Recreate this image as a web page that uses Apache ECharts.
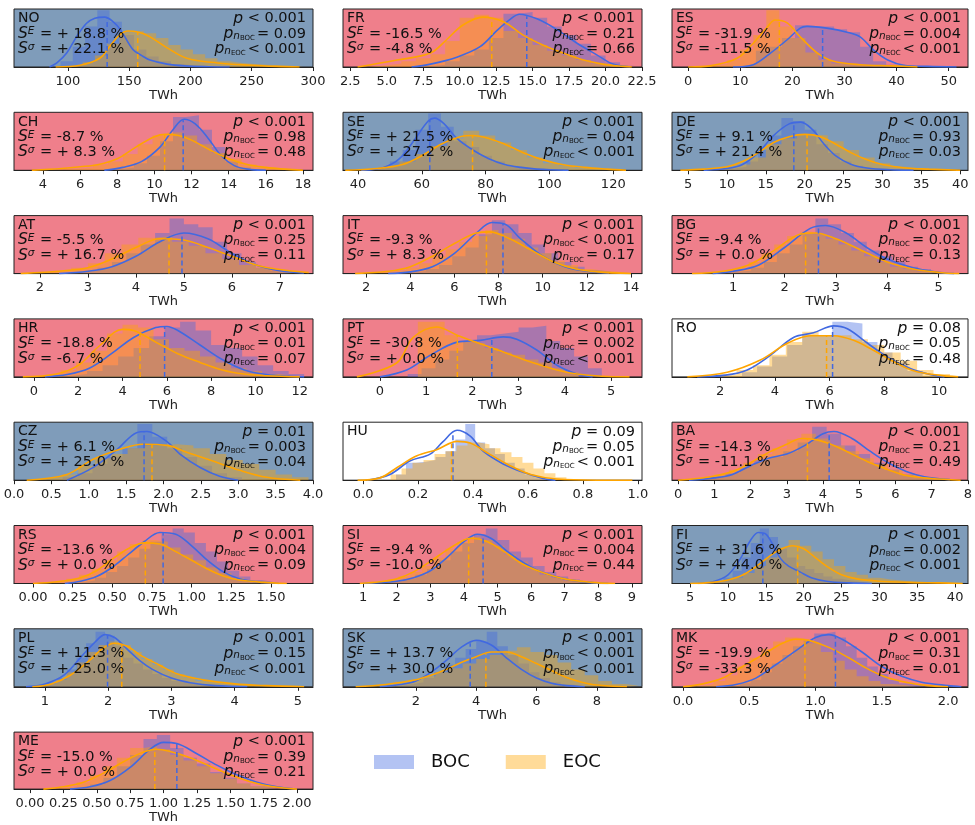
<!DOCTYPE html>
<html><head><meta charset="utf-8">
<script src="https://cdn.jsdelivr.net/npm/echarts@6/dist/echarts.min.js"></script>
<style>html,body{margin:0;padding:0;background:#fff}#c{width:975px;height:825px}</style>
</head><body><div id="c"></div><script>
// ---------------- DATA ----------------
const countries = ['NO','FR','ES','CH','SE','DE','AT','IT','BG','HR','PT','RO','CZ','HU','BA','RS','SI','FI','PL','SK','MK','ME'];
const trend = ['inc','dec','dec','dec','inc','inc','dec','dec','dec','dec','dec','ns','inc','ns','dec','dec','dec','inc','inc','inc','dec','dec'];
// stats: S^E, S^sigma, p, p_nBOC, p_nEOC
const stat_SE = ['+ 18.8 %','-16.5 %','-31.9 %','-8.7 %','+ 21.5 %','+ 9.1 %','-5.5 %','-9.3 %','-9.4 %','-18.8 %','-30.8 %','','+ 6.1 %','','-14.3 %','-13.6 %','-9.4 %','+ 31.6 %','+ 11.3 %','+ 13.7 %','-19.9 %','-15.0 %'];
const stat_Ss = ['+ 22.1 %','-4.8 %','-11.5 %','+ 8.3 %','+ 27.2 %','+ 21.4 %','+ 16.7 %','+ 8.3 %','+ 0.0 %','-6.7 %','+ 0.0 %','','+ 25.0 %','','-11.1 %','+ 0.0 %','-10.0 %','+ 44.0 %','+ 25.0 %','+ 30.0 %','-33.3 %','+ 0.0 %'];
const stat_p = ['< 0.001','< 0.001','< 0.001','< 0.001','< 0.001','< 0.001','< 0.001','< 0.001','< 0.001','< 0.001','< 0.001','= 0.08','= 0.01','= 0.09','< 0.001','< 0.001','< 0.001','< 0.001','< 0.001','< 0.001','< 0.001','< 0.001'];
const stat_pB = ['= 0.09','= 0.21','= 0.004','= 0.98','= 0.04','= 0.93','= 0.25','< 0.001','= 0.02','= 0.01','= 0.002','= 0.05','= 0.003','= 0.05','= 0.21','= 0.004','= 0.004','= 0.002','= 0.15','< 0.001','= 0.31','= 0.39'];
const stat_pE = ['< 0.001','= 0.66','< 0.001','= 0.48','< 0.001','= 0.03','= 0.11','= 0.17','= 0.13','= 0.07','< 0.001','= 0.48','= 0.04','< 0.001','= 0.49','= 0.09','= 0.44','< 0.001','< 0.001','< 0.001','= 0.01','= 0.21'];

// NO
const NO_ticks = ['100','150','200','250','300'];
const NO_range = [56, 300];
const NO_bocBin = [84, 10];
const NO_bocH = [0.02,0.1,0.35,0.7,0.98,0.78,0.55,0.3,0.18,0.1,0.05,0.02,0.01,0.01,0.005];
const NO_eocBin = [92, 10];
const NO_eocH = [0.01,0.03,0.08,0.2,0.4,0.6,0.62,0.58,0.5,0.38,0.3,0.22,0.15,0.1,0.07,0.05,0.04,0.03,0.02,0.01];
const NO_bocKde = [[85,0],[91,0.07],[99,0.24],[107,0.52],[115,0.75],[122,0.84],[130,0.86],[137,0.78],[143,0.64],[153,0.3],[160,0.2],[167,0.12],[181,0.05],[195,0.02],[215,0.005],[232,0]];
const NO_eocKde = [[90,0],[110,0.03],[126,0.15],[134,0.35],[142,0.55],[149,0.62],[158,0.6],[167,0.52],[181,0.33],[197,0.15],[222,0.07],[249,0.03],[270,0.01],[289,0]];
const NO_means = [132, 157];
// FR
const FR_ticks = ['2.5','5.0','7.5','10.0','12.5','15.0','17.5','20.0','22.5'];
const FR_range = [2.0, 22.5];
const FR_bocBin = [7, 1];
const FR_bocH = [0.01,0.04,0.1,0.2,0.3,0.5,0.92,0.95,0.85,0.7,0.55,0.4,0.2,0.08,0.02];
const FR_eocBin = [3, 1];
const FR_eocH = [0.01,0.03,0.06,0.1,0.15,0.22,0.45,0.85,0.9,0.85,0.62,0.5,0.38,0.28,0.2,0.12,0.06,0.03,0.01];
const FR_bocKde = [[6.7,0],[8.0,0.05],[9.8,0.17],[11.4,0.35],[12.6,0.64],[13.5,0.83],[14.1,0.91],[15.3,0.83],[16.7,0.64],[18.05,0.41],[19.4,0.21],[20.5,0.05],[21.7,0]];
const FR_eocKde = [[3.0,0],[5.7,0.12],[8.0,0.24],[9.1,0.47],[10.2,0.72],[11.6,0.86],[13.0,0.78],[14.35,0.55],[15.7,0.38],[17.1,0.24],[18.5,0.12],[19.8,0.05],[21.2,0.01],[21.8,0]];
const FR_means = [14.6, 12.2];
// ES
const ES_ticks = ['0','10','20','30','40','50'];
const ES_range = [-3.1, 53.7];
const ES_bocBin = [8, 2.5];
const ES_bocH = [0.02,0.05,0.28,0.35,0.5,0.72,0.7,0.7,0.65,0.6,0.35,0.1,0.04,0.02,0.01,0.01,0.01];
const ES_eocBin = [0, 2.5];
const ES_eocH = [0.01,0.02,0.05,0.12,0.3,0.55,0.98,0.7,0.5,0.25,0.12,0.06,0.04,0.03,0.02,0.02,0.01];
const ES_bocKde = [[8.6,0],[12.5,0.04],[15.8,0.24],[19,0.47],[21.5,0.67],[22.8,0.7],[26.6,0.67],[30.5,0.6],[33,0.52],[35.6,0.29],[38.3,0.12],[41.4,0.03],[45.9,0.01],[51.5,0]];
const ES_eocKde = [[0,0],[4.2,0.02],[9.4,0.15],[12.5,0.41],[15.2,0.69],[16.7,0.81],[19,0.76],[21.5,0.52],[24.8,0.24],[27.9,0.1],[33,0.04],[39.4,0.02],[44,0]];
const ES_means = [25.8, 17.5];
// CH
const CH_ticks = ['4','6','8','10','12','14','16','18'];
const CH_range = [2.44, 18.54];
const CH_bocBin = [7.5, 0.7];
const CH_bocH = [0.02,0.05,0.12,0.25,0.5,0.92,0.95,0.7,0.4,0.15,0.05,0.01];
const CH_eocBin = [3.5, 0.8];
const CH_eocH = [0.01,0.02,0.03,0.05,0.1,0.15,0.28,0.45,0.6,0.65,0.6,0.45,0.3,0.2,0.1,0.05,0.03,0.01];
const CH_bocKde = [[7.3,0],[8.3,0.05],[9.3,0.15],[10.3,0.4],[11.0,0.7],[11.6,0.88],[12.2,0.8],[12.9,0.55],[13.6,0.25],[14.3,0.08],[15,0.02],[16,0]];
const CH_eocKde = [[3.4,0],[5,0.03],[6,0.06],[7,0.1],[8,0.2],[9,0.4],[10,0.58],[10.6,0.62],[11.3,0.6],[12,0.52],[13,0.35],[14,0.2],[15,0.1],[16,0.05],[17,0.02],[18,0]];
const CH_means = [11.55, 10.55];
// SE
const SE_ticks = ['40','60','80','100','120'];
const SE_range = [35.3, 129];
const SE_bocBin = [42, 4];
const SE_bocH = [0.02,0.05,0.15,0.35,0.7,0.98,0.75,0.5,0.4,0.25,0.15,0.08,0.05,0.02,0.01];
const SE_eocBin = [38, 5];
const SE_eocH = [0.02,0.04,0.08,0.15,0.28,0.42,0.55,0.68,0.6,0.48,0.35,0.22,0.12,0.08,0.04,0.02,0.01];
const SE_bocKde = [[41,0],[48,0.05],[53,0.2],[58,0.55],[62,0.85],[64,0.9],[67,0.8],[71,0.55],[76,0.35],[81,0.2],[86,0.1],[91,0.05],[96,0.02],[106,0]];
const SE_eocKde = [[36,0],[46,0.03],[54,0.1],[60,0.25],[66,0.45],[72,0.58],[76,0.6],[81,0.55],[86,0.45],[92,0.3],[98,0.18],[104,0.1],[111,0.05],[118,0.02],[124,0]];
const SE_means = [62.5, 75.9];
// DE
const DE_ticks = ['5','10','15','20','25','30','35','40'];
const DE_range = [2.93, 41];
const DE_bocBin = [8, 1.5];
const DE_bocH = [0.01,0.03,0.06,0.15,0.35,0.6,0.9,0.85,0.7,0.45,0.3,0.15,0.08,0.04,0.02,0.01];
const DE_eocBin = [5, 2];
const DE_eocH = [0.01,0.03,0.05,0.1,0.22,0.45,0.55,0.62,0.6,0.5,0.35,0.22,0.12,0.06,0.03,0.02,0.01];
const DE_bocKde = [[7,0],[10,0.03],[12,0.1],[14,0.3],[16,0.6],[18,0.8],[19.5,0.83],[21,0.7],[22.5,0.45],[24,0.25],[26,0.1],[28,0.04],[31,0.01],[34,0]];
const DE_eocKde = [[4,0],[7,0.02],[10,0.06],[12,0.15],[14,0.3],[16,0.48],[18,0.58],[20,0.62],[22,0.58],[24,0.45],[26,0.3],[28,0.18],[30,0.1],[33,0.04],[36,0.02],[40,0]];
const DE_means = [18.6, 20.3];
// AT
const AT_ticks = ['2','3','4','5','6','7'];
const AT_range = [1.46, 7.69];
const AT_bocBin = [2.6, 0.3];
const AT_bocH = [0.02,0.05,0.1,0.2,0.35,0.5,0.7,0.95,0.85,0.8,0.55,0.35,0.2,0.1,0.05,0.02];
const AT_eocBin = [1.6, 0.35];
const AT_eocH = [0.01,0.03,0.06,0.1,0.18,0.35,0.5,0.62,0.65,0.55,0.48,0.35,0.25,0.15,0.1,0.05,0.02];
const AT_bocKde = [[2.4,0],[3,0.04],[3.5,0.12],[4,0.3],[4.5,0.55],[5,0.7],[5.5,0.6],[6,0.35],[6.5,0.15],[7,0.05],[7.5,0.01]];
const AT_eocKde = [[1.6,0],[2.5,0.05],[3,0.1],[3.5,0.25],[4,0.45],[4.5,0.6],[5,0.58],[5.5,0.45],[6,0.3],[6.5,0.15],[7,0.07],[7.6,0.02]];
const AT_means = [4.96, 4.69];
// IT
const IT_ticks = ['2','4','6','8','10','12','14'];
const IT_range = [0.95, 14.5];
const IT_bocBin = [3.5, 0.6];
const IT_bocH = [0.02,0.04,0.08,0.15,0.3,0.45,0.68,0.92,0.85,0.7,0.5,0.35,0.2,0.12,0.06,0.03];
const IT_eocBin = [2, 0.6];
const IT_eocH = [0.01,0.03,0.06,0.1,0.18,0.3,0.42,0.55,0.65,0.75,0.7,0.6,0.45,0.35,0.22,0.15,0.08,0.05,0.03,0.01];
const IT_bocKde = [[3,0],[4,0.03],[5,0.12],[6,0.35],[7,0.7],[7.7,0.88],[8.3,0.85],[9,0.6],[10,0.3],[11,0.12],[12,0.04],[13,0.01]];
const IT_eocKde = [[1.5,0],[3,0.04],[4,0.12],[5,0.3],[6,0.52],[7,0.7],[7.6,0.72],[8.5,0.6],[9.5,0.4],[10.5,0.2],[11.5,0.08],[12.5,0.03],[14,0]];
const IT_means = [8.2, 7.45];
// BG
const BG_ticks = ['1','2','3','4','5'];
const BG_range = [-0.19, 5.57];
const BG_bocBin = [0.6, 0.25];
const BG_bocH = [0.01,0.03,0.05,0.1,0.2,0.35,0.5,0.7,0.95,0.85,0.7,0.55,0.4,0.3,0.2,0.12,0.08,0.03];
const BG_eocBin = [0.3, 0.25];
const BG_eocH = [0.01,0.03,0.06,0.1,0.2,0.35,0.5,0.65,0.72,0.68,0.6,0.5,0.4,0.3,0.2,0.12,0.08,0.04,0.02,0.01];
const BG_bocKde = [[0.6,0],[1,0.04],[1.5,0.15],[2,0.45],[2.5,0.78],[2.8,0.83],[3.2,0.7],[3.6,0.45],[4,0.25],[4.5,0.1],[5,0.02],[5.3,0]];
const BG_eocKde = [[0.2,0],[0.8,0.04],[1.3,0.15],[1.8,0.4],[2.3,0.68],[2.6,0.7],[3,0.6],[3.5,0.4],[4,0.2],[4.5,0.08],[5,0.02],[5.4,0]];
const BG_means = [2.66, 2.41];
// HR
const HR_ticks = ['0','2','4','6','8','10','12'];
const HR_range = [-0.9, 12.6];
const HR_bocBin = [1, 0.7];
const HR_bocH = [0.02,0.05,0.1,0.2,0.35,0.5,0.7,0.85,0.95,0.8,0.55,0.5,0.35,0.2,0.1,0.05];
const HR_eocBin = [-0.2, 0.7];
const HR_eocH = [0.02,0.05,0.12,0.25,0.45,0.75,0.9,0.85,0.65,0.5,0.45,0.35,0.25,0.15,0.1,0.05,0.02];
const HR_bocKde = [[0.5,0],[1.5,0.04],[2.5,0.15],[3.5,0.4],[4.5,0.68],[5.5,0.85],[6,0.87],[6.5,0.8],[7.5,0.55],[8.5,0.3],[9.5,0.12],[10.5,0.04],[11.5,0.01],[12.2,0]];
const HR_eocKde = [[-0.5,0],[1,0.05],[2,0.2],[3,0.55],[4,0.82],[4.5,0.8],[5.5,0.6],[6.5,0.4],[7.5,0.25],[8.5,0.12],[9.5,0.05],[10.5,0.02],[12,0]];
const HR_means = [5.9, 4.79];
// PT
const PT_ticks = ['0','1','2','3','4','5'];
const PT_range = [-0.8, 5.67];
const PT_bocBin = [0.6, 0.3];
const PT_bocH = [0.05,0.15,0.3,0.45,0.6,0.72,0.75,0.78,0.85,0.88,0.62,0.5,0.35,0.15];
const PT_eocBin = [0.82, 0.29];
const PT_eocH = [0.95,0.95,0.72,0.6,0.58,0.5,0.42,0.38,0.3,0.25,0.15,0.08];
const PT_bocKde = [[0,0],[0.58,0.12],[1.08,0.37],[1.67,0.6],[2.17,0.63],[2.67,0.69],[2.96,0.65],[3.4,0.46],[3.83,0.2],[4.26,0.05],[4.6,0]];
const PT_eocKde = [[-0.5,0],[0.36,0.24],[0.72,0.68],[1.23,0.86],[1.67,0.72],[2.17,0.57],[2.67,0.43],[3.25,0.26],[3.83,0.12],[4.26,0.05],[4.8,0.01],[5.4,0]];
const PT_means = [2.42, 1.675];
// RO
const RO_ticks = ['2','4','6','8','10'];
const RO_range = [0.24, 11.06];
const RO_bocBin = [2.8, 0.55];
const RO_bocH = [0.08,0.18,0.35,0.55,0.72,0.72,0.95,0.92,0.6,0.42,0.25,0.1];
const RO_eocBin = [2.0, 0.6];
const RO_eocH = [0.04,0.12,0.2,0.38,0.6,0.78,0.72,0.72,0.65,0.55,0.42,0.28,0.12,0.05];
const RO_bocKde = [[1.16,0],[2.2,0.03],[2.99,0.12],[3.83,0.37],[4.68,0.68],[5.41,0.76],[6.15,0.88],[6.65,0.83],[7.39,0.58],[8.12,0.34],[8.97,0.14],[9.6,0.05],[10.2,0]];
const RO_eocKde = [[0.8,0],[2.26,0.08],[3.47,0.29],[4.46,0.58],[5.3,0.71],[6.15,0.71],[6.88,0.63],[7.6,0.46],[8.36,0.26],[9.1,0.1],[9.97,0.03],[10.7,0]];
const RO_means = [6.11, 5.89];
// CZ
const CZ_ticks = ['0.0','0.5','1.0','1.5','2.0','2.5','3.0','3.5','4.0'];
const CZ_range = [0, 4];
const CZ_bocBin = [0.65, 0.2];
const CZ_bocH = [0.05,0.12,0.28,0.4,0.55,0.97,0.75,0.55,0.4,0.25,0.12,0.05];
const CZ_eocBin = [0.2, 0.22];
const CZ_eocH = [0.02,0.05,0.1,0.25,0.38,0.45,0.55,0.6,0.62,0.6,0.55,0.45,0.35,0.28,0.18,0.1,0.05];
const CZ_bocKde = [[0.71,0],[1.06,0.22],[1.38,0.53],[1.64,0.82],[1.78,0.84],[2.05,0.66],[2.22,0.45],[2.49,0.22],[2.75,0.07],[3.0,0]];
const CZ_eocKde = [[0.17,0],[0.71,0.1],[1.06,0.36],[1.46,0.55],[1.72,0.62],[2.05,0.6],[2.31,0.48],[2.66,0.33],[3.02,0.17],[3.38,0.05],[3.83,0]];
const CZ_means = [1.74, 1.846];
// HU
const HU_ticks = ['0.0','0.2','0.4','0.6','0.8','1.0'];
const HU_range = [-0.073, 1.015];
const HU_bocBin = [0.12, 0.036];
const HU_bocH = [0.1,0.3,0.32,0.35,0.4,0.5,0.7,0.97,0.65,0.55,0.45,0.3,0.2,0.1,0.05];
const HU_eocBin = [0.1, 0.04];
const HU_eocH = [0.1,0.2,0.3,0.35,0.45,0.5,0.6,0.65,0.62,0.55,0.48,0.4,0.3,0.2,0.12,0.05];
const HU_bocKde = [[0.014,0],[0.098,0.1],[0.17,0.33],[0.244,0.45],[0.29,0.66],[0.342,0.86],[0.39,0.76],[0.437,0.5],[0.51,0.28],[0.58,0.14],[0.655,0.03],[0.7,0]];
const HU_eocKde = [[-0.02,0],[0.062,0.04],[0.124,0.22],[0.196,0.42],[0.27,0.53],[0.342,0.67],[0.39,0.64],[0.46,0.45],[0.535,0.25],[0.61,0.1],[0.705,0.02],[0.85,0],[0.98,0]];
const HU_means = [0.327, 0.322];
// BA
const BA_ticks = ['0','1','2','3','4','5','6','7','8'];
const BA_range = [-0.17, 8];
const BA_bocBin = [0.5, 0.4];
const BA_bocH = [0.02,0.06,0.12,0.25,0.35,0.4,0.5,0.65,0.92,0.8,0.6,0.45,0.3,0.18,0.1,0.05,0.02];
const BA_eocBin = [0.2, 0.4];
const BA_eocH = [0.02,0.05,0.1,0.18,0.3,0.45,0.55,0.7,0.8,0.72,0.6,0.5,0.38,0.28,0.18,0.1,0.05,0.02];
const BA_bocKde = [[0.3,0],[1,0.04],[1.5,0.1],[2,0.25],[2.5,0.38],[3,0.45],[3.5,0.6],[4,0.8],[4.3,0.84],[4.8,0.72],[5.3,0.5],[5.8,0.3],[6.3,0.15],[6.8,0.06],[7.5,0.01]];
const BA_eocKde = [[0,0],[0.8,0.05],[1.5,0.15],[2,0.3],[2.5,0.48],[3,0.62],[3.4,0.72],[3.8,0.7],[4.3,0.6],[4.8,0.45],[5.3,0.3],[5.8,0.18],[6.3,0.08],[7,0.03],[7.8,0]];
const BA_means = [4.17, 3.57];
// RS
const RS_ticks = ['0.00','0.25','0.50','0.75','1.00','1.25','1.50'];
const RS_range = [-0.12, 1.765];
const RS_bocBin = [0.25, 0.07];
const RS_bocH = [0.02,0.05,0.1,0.2,0.3,0.45,0.6,0.72,0.85,0.95,0.88,0.7,0.55,0.38,0.22,0.12,0.06,0.03];
const RS_eocBin = [0.05, 0.08];
const RS_eocH = [0.02,0.04,0.08,0.15,0.25,0.4,0.55,0.68,0.75,0.72,0.62,0.5,0.4,0.28,0.18,0.1,0.05,0.02];
const RS_bocKde = [[0.2,0],[0.3,0.04],[0.4,0.12],[0.5,0.28],[0.6,0.5],[0.7,0.72],[0.8,0.88],[0.9,0.85],[1.0,0.65],[1.1,0.4],[1.2,0.2],[1.3,0.08],[1.4,0.03],[1.55,0]];
const RS_eocKde = [[0,0],[0.15,0.03],[0.3,0.1],[0.4,0.22],[0.5,0.42],[0.6,0.6],[0.7,0.7],[0.8,0.68],[0.9,0.55],[1.0,0.4],[1.1,0.25],[1.2,0.13],[1.3,0.06],[1.45,0.02],[1.6,0]];
const RS_means = [0.82, 0.708];
// SI
const SI_ticks = ['1','2','3','4','5','6','7','8','9'];
const SI_range = [0.4, 9.3];
const SI_bocBin = [1.5, 0.35];
const SI_bocH = [0.02,0.04,0.08,0.15,0.25,0.4,0.55,0.7,0.85,0.95,0.75,0.55,0.45,0.3,0.2,0.12,0.07,0.03,0.01];
const SI_eocBin = [1.0, 0.35];
const SI_eocH = [0.01,0.03,0.06,0.12,0.2,0.3,0.45,0.6,0.72,0.8,0.75,0.65,0.5,0.38,0.25,0.15,0.1,0.05,0.03,0.01];
const SI_bocKde = [[1,0],[2,0.04],[2.5,0.1],[3,0.22],[3.5,0.45],[4,0.72],[4.4,0.85],[4.8,0.78],[5.3,0.55],[5.8,0.35],[6.3,0.2],[7,0.08],[7.7,0.02],[8.3,0]];
const SI_eocKde = [[0.9,0],[1.5,0.03],[2,0.08],[2.5,0.2],[3,0.38],[3.5,0.58],[4,0.75],[4.2,0.78],[4.7,0.72],[5.2,0.55],[5.7,0.35],[6.3,0.2],[7,0.08],[7.8,0.02],[8.5,0]];
const SI_means = [4.57, 4.14];
// FI
const FI_ticks = ['5','10','15','20','25','30','35','40'];
const FI_range = [2.6, 41.7];
const FI_bocBin = [7, 1.2];
const FI_bocH = [0.02,0.05,0.1,0.22,0.45,0.7,0.95,0.8,0.6,0.45,0.3,0.25,0.18,0.12,0.08,0.05,0.03,0.02];
const FI_eocBin = [6, 1.5];
const FI_eocH = [0.02,0.04,0.06,0.1,0.18,0.3,0.45,0.62,0.75,0.65,0.55,0.42,0.3,0.2,0.15,0.1,0.07,0.05,0.03,0.02,0.02,0.01,0.01];
const FI_bocKde = [[6,0],[8,0.03],[10,0.15],[11.5,0.4],[13,0.75],[14,0.88],[15,0.85],[16,0.65],[17,0.42],[18,0.3],[19.5,0.2],[21,0.1],[23,0.04],[26,0.01],[29,0]];
const FI_eocKde = [[5,0],[8,0.02],[10,0.06],[12,0.15],[14,0.32],[16,0.52],[17.5,0.62],[18.5,0.65],[20,0.6],[21.5,0.45],[23,0.3],[25,0.15],[27,0.08],[30,0.04],[34,0.02],[38,0.01],[41,0]];
const FI_means = [14.6, 19.2];
// PL
const PL_ticks = ['1','2','3','4','5'];
const PL_range = [0.51, 5.24];
const PL_bocBin = [0.9, 0.15];
const PL_bocH = [0.03,0.08,0.15,0.3,0.5,0.75,0.95,0.88,0.7,0.5,0.4,0.3,0.22,0.15,0.1,0.07,0.04,0.03,0.02];
const PL_eocBin = [1.0, 0.17];
const PL_eocH = [0.05,0.12,0.25,0.42,0.6,0.72,0.78,0.72,0.6,0.48,0.38,0.3,0.22,0.15,0.1,0.07,0.05,0.04,0.03,0.02,0.02,0.01,0.01,0.01];
const PL_bocKde = [[0.7,0],[1.0,0.05],[1.3,0.2],[1.6,0.55],[1.8,0.78],[1.95,0.9],[2.1,0.85],[2.3,0.65],[2.5,0.45],[2.7,0.3],[3,0.15],[3.3,0.07],[3.7,0.02],[4.2,0]];
const PL_eocKde = [[0.8,0],[1.1,0.05],[1.4,0.2],[1.7,0.45],[1.9,0.65],[2.1,0.75],[2.3,0.7],[2.5,0.55],[2.8,0.38],[3.1,0.22],[3.5,0.12],[4,0.05],[4.5,0.02],[5.1,0]];
const PL_means = [1.99, 2.215];
// SK
const SK_ticks = ['2','4','6','8'];
const SK_range = [-0.42, 9.5];
const SK_bocBin = [1.2, 0.35];
const SK_bocH = [0.02,0.05,0.08,0.15,0.25,0.38,0.5,0.65,0.78,0.95,0.7,0.55,0.4,0.25,0.15,0.08,0.04,0.02];
const SK_eocBin = [0.4, 0.45];
const SK_eocH = [0.02,0.04,0.08,0.12,0.18,0.25,0.32,0.4,0.48,0.55,0.62,0.68,0.6,0.55,0.42,0.3,0.2,0.1,0.05,0.02];
const SK_bocKde = [[0.8,0],[1.5,0.04],[2,0.1],[2.5,0.25],[3,0.45],[3.5,0.68],[4,0.8],[4.5,0.72],[5,0.5],[5.5,0.3],[6,0.15],[6.5,0.06],[7,0.02],[7.6,0]];
const SK_eocKde = [[0,0],[1,0.04],[2,0.12],[2.5,0.2],[3,0.3],[3.5,0.42],[4,0.52],[4.5,0.6],[5,0.6],[5.5,0.52],[6,0.4],[6.5,0.28],[7,0.16],[7.5,0.08],[8,0.03],[9,0]];
const SK_means = [3.8, 4.32];
// MK
const MK_ticks = ['0.0','0.5','1.0','1.5','2.0'];
const MK_range = [-0.083, 2.15];
const MK_bocBin = [0.35, 0.08];
const MK_bocH = [0.02,0.06,0.12,0.25,0.4,0.55,0.7,0.8,0.92,0.95,0.85,0.7,0.5,0.35,0.22,0.12,0.06,0.03,0.01];
const MK_eocBin = [0.05, 0.09];
const MK_eocH = [0.02,0.05,0.1,0.2,0.35,0.5,0.65,0.78,0.85,0.82,0.75,0.6,0.45,0.3,0.18,0.1,0.05,0.03,0.01];
const MK_bocKde = [[0.25,0],[0.4,0.04],[0.55,0.15],[0.7,0.38],[0.85,0.62],[1.0,0.85],[1.1,0.9],[1.2,0.82],[1.35,0.6],[1.5,0.35],[1.65,0.18],[1.8,0.08],[2.0,0.02],[2.1,0]];
const MK_eocKde = [[0,0],[0.15,0.05],[0.3,0.15],[0.45,0.35],[0.6,0.55],[0.75,0.75],[0.85,0.82],[0.95,0.8],[1.1,0.68],[1.25,0.5],[1.4,0.3],[1.55,0.15],[1.7,0.07],[1.85,0.02],[2.0,0]];
const MK_means = [1.15, 0.92];
// ME
const ME_ticks = ['0.00','0.25','0.50','0.75','1.00','1.25','1.50','1.75','2.00'];
const ME_range = [-0.12, 2.12];
const ME_bocBin = [0.35, 0.1];
const ME_bocH = [0.03,0.08,0.2,0.4,0.6,0.88,0.95,0.72,0.55,0.45,0.3,0.2,0.1,0.05,0.02];
const ME_eocBin = [0.15, 0.1];
const ME_eocH = [0.02,0.05,0.12,0.25,0.4,0.55,0.72,0.75,0.7,0.6,0.5,0.4,0.28,0.18,0.1,0.05,0.02];
const ME_bocKde = [[0.3,0],[0.45,0.04],[0.6,0.15],[0.75,0.38],[0.9,0.7],[1.0,0.82],[1.1,0.8],[1.25,0.62],[1.4,0.42],[1.55,0.25],[1.7,0.12],[1.85,0.04],[2.0,0]];
const ME_eocKde = [[0.1,0],[0.25,0.04],[0.4,0.12],[0.55,0.28],[0.7,0.48],[0.85,0.65],[0.95,0.7],[1.05,0.66],[1.2,0.55],[1.35,0.4],[1.5,0.25],[1.65,0.13],[1.8,0.05],[2.0,0]];
const ME_means = [1.10, 0.935];

const legendNames = ['BOC', 'EOC'];

// --------------- BUILD ----------------
const panelData = {
  NO:[NO_ticks,NO_range,NO_bocBin,NO_bocH,NO_eocBin,NO_eocH,NO_bocKde,NO_eocKde,NO_means],
  FR:[FR_ticks,FR_range,FR_bocBin,FR_bocH,FR_eocBin,FR_eocH,FR_bocKde,FR_eocKde,FR_means],
  ES:[ES_ticks,ES_range,ES_bocBin,ES_bocH,ES_eocBin,ES_eocH,ES_bocKde,ES_eocKde,ES_means],
  CH:[CH_ticks,CH_range,CH_bocBin,CH_bocH,CH_eocBin,CH_eocH,CH_bocKde,CH_eocKde,CH_means],
  SE:[SE_ticks,SE_range,SE_bocBin,SE_bocH,SE_eocBin,SE_eocH,SE_bocKde,SE_eocKde,SE_means],
  DE:[DE_ticks,DE_range,DE_bocBin,DE_bocH,DE_eocBin,DE_eocH,DE_bocKde,DE_eocKde,DE_means],
  AT:[AT_ticks,AT_range,AT_bocBin,AT_bocH,AT_eocBin,AT_eocH,AT_bocKde,AT_eocKde,AT_means],
  IT:[IT_ticks,IT_range,IT_bocBin,IT_bocH,IT_eocBin,IT_eocH,IT_bocKde,IT_eocKde,IT_means],
  BG:[BG_ticks,BG_range,BG_bocBin,BG_bocH,BG_eocBin,BG_eocH,BG_bocKde,BG_eocKde,BG_means],
  HR:[HR_ticks,HR_range,HR_bocBin,HR_bocH,HR_eocBin,HR_eocH,HR_bocKde,HR_eocKde,HR_means],
  PT:[PT_ticks,PT_range,PT_bocBin,PT_bocH,PT_eocBin,PT_eocH,PT_bocKde,PT_eocKde,PT_means],
  RO:[RO_ticks,RO_range,RO_bocBin,RO_bocH,RO_eocBin,RO_eocH,RO_bocKde,RO_eocKde,RO_means],
  CZ:[CZ_ticks,CZ_range,CZ_bocBin,CZ_bocH,CZ_eocBin,CZ_eocH,CZ_bocKde,CZ_eocKde,CZ_means],
  HU:[HU_ticks,HU_range,HU_bocBin,HU_bocH,HU_eocBin,HU_eocH,HU_bocKde,HU_eocKde,HU_means],
  BA:[BA_ticks,BA_range,BA_bocBin,BA_bocH,BA_eocBin,BA_eocH,BA_bocKde,BA_eocKde,BA_means],
  RS:[RS_ticks,RS_range,RS_bocBin,RS_bocH,RS_eocBin,RS_eocH,RS_bocKde,RS_eocKde,RS_means],
  SI:[SI_ticks,SI_range,SI_bocBin,SI_bocH,SI_eocBin,SI_eocH,SI_bocKde,SI_eocKde,SI_means],
  FI:[FI_ticks,FI_range,FI_bocBin,FI_bocH,FI_eocBin,FI_eocH,FI_bocKde,FI_eocKde,FI_means],
  PL:[PL_ticks,PL_range,PL_bocBin,PL_bocH,PL_eocBin,PL_eocH,PL_bocKde,PL_eocKde,PL_means],
  SK:[SK_ticks,SK_range,SK_bocBin,SK_bocH,SK_eocBin,SK_eocH,SK_bocKde,SK_eocKde,SK_means],
  MK:[MK_ticks,MK_range,MK_bocBin,MK_bocH,MK_eocBin,MK_eocH,MK_bocKde,MK_eocKde,MK_means],
  ME:[ME_ticks,ME_range,ME_bocBin,ME_bocH,ME_eocBin,ME_eocH,ME_bocKde,ME_eocKde,ME_means]
};

const FONT = 'DejaVu Sans';
const BGCOL = {inc:'#7f9cba', dec:'#ef7f8b', ns:'#ffffff'};
const BOC_LINE = '#4169e1', EOC_LINE = '#ffa500';
const BOC_FILL = 'rgba(65,105,225,0.4)', EOC_FILL = 'rgba(255,165,0,0.4)';
const colLeft = [14, 343, 672], colW = [299, 299, 296];
const rowTop0 = 9, rowStep = 103.3, panelH = 58;

function histPts(bin, h) {
  const d = [[bin[0], 0]];
  for (let i = 0; i < h.length; i++) {
    d.push([bin[0] + i * bin[1], h[i]]);
    d.push([bin[0] + (i + 1) * bin[1], h[i]]);
  }
  d.push([bin[0] + h.length * bin[1], 0]);
  return d;
}
function interp(pts, x) {
  for (let i = 1; i < pts.length; i++) {
    if (x <= pts[i][0]) {
      const a = pts[i - 1], b = pts[i];
      return a[1] + (b[1] - a[1]) * (x - a[0]) / (b[0] - a[0]);
    }
  }
  return 0;
}

const grids = [], xAxes = [], yAxes = [], series = [], graphics = [];
const LH = 15.2;
const rich = {
  nm: {fontFamily: FONT, fontSize: 14, lineHeight: LH, color: '#111'},
  n:  {fontFamily: FONT, fontSize: 14.5, lineHeight: LH, color: '#111'},
  it: {fontFamily: FONT, fontSize: 15.5, fontStyle: 'italic', lineHeight: LH, color: '#111'},
  sup:{fontFamily: FONT, fontSize: 10.5, fontStyle: 'italic', lineHeight: LH, verticalAlign: 'top', color: '#111', padding: [0, 1, 0, 0]},
  sub:{fontFamily: FONT, fontSize: 10.5, fontStyle: 'italic', lineHeight: LH, verticalAlign: 'bottom', color: '#111'},
  sub2:{fontFamily: FONT, fontSize: 7, lineHeight: LH, verticalAlign: 'bottom', color: '#111', padding: [0, 2, 0, 0]}
};

countries.forEach((c, i) => {
  const [ticks, range, bocBin, bocH, eocBin, eocH, bocKde, eocKde, means] = panelData[c];
  const col = i % 3, row = Math.floor(i / 3);
  const left = colLeft[col], top = rowTop0 + row * rowStep, w = colW[col];
  grids.push({left, top, width: w, height: panelH, show: true,
    backgroundColor: BGCOL[trend[i]], borderColor: '#222', borderWidth: 1});
  const vals = ticks.map(Number);
  xAxes.push({gridIndex: i, type: 'value', min: range[0], max: range[1],
    axisLine: {show: true, onZero: false, lineStyle: {color: '#222', width: 1}},
    axisTick: {show: true, length: 4, customValues: vals, lineStyle: {color: '#222'}},
    axisLabel: {customValues: vals, fontFamily: FONT, fontSize: 13, color: '#222', margin: 8,
      formatter: v => { let k = 0, best = 1e9; vals.forEach((t, j) => { const d = Math.abs(t - v); if (d < best) { best = d; k = j; } }); return ticks[k]; }},
    splitLine: {show: false},
    name: 'TWh', nameLocation: 'middle', nameGap: 20,
    nameTextStyle: {fontFamily: FONT, fontSize: 13, color: '#222'}});
  yAxes.push({gridIndex: i, type: 'value', min: 0, max: 1, show: false});
  const common = {xAxisIndex: i, yAxisIndex: i, type: 'line', symbol: 'none', silent: true, animation: false};
  series.push(Object.assign({}, common, {name: 'BOC', data: histPts(bocBin, bocH),
    lineStyle: {width: 0, color: BOC_FILL}, itemStyle: {color: BOC_FILL}, areaStyle: {color: BOC_FILL, opacity: 1}}));
  series.push(Object.assign({}, common, {name: 'BOC kde', data: bocKde, smooth: 0.35,
    lineStyle: {width: 1.6, color: BOC_LINE}, itemStyle: {color: BOC_LINE}}));
  series.push(Object.assign({}, common, {name: 'EOC', data: histPts(eocBin, eocH),
    lineStyle: {width: 0, color: EOC_FILL}, itemStyle: {color: EOC_FILL}, areaStyle: {color: EOC_FILL, opacity: 1}}));
  series.push(Object.assign({}, common, {name: 'EOC kde', data: eocKde, smooth: 0.35,
    lineStyle: {width: 1.6, color: EOC_LINE}, itemStyle: {color: EOC_LINE}}));
  series.push(Object.assign({}, common, {name: 'BOC mean', data: [[means[0], 0], [means[0], interp(bocKde, means[0])]],
    lineStyle: {width: 1.5, type: [5, 3], color: BOC_LINE}}));
  series.push(Object.assign({}, common, {name: 'EOC mean', data: [[means[1], 0], [means[1], interp(eocKde, means[1])]],
    lineStyle: {width: 1.5, type: [5, 3], color: EOC_LINE}}));

  // text blocks
  let leftText = '{nm|' + c + '}';
  if (stat_SE[i]) leftText += '\n{it|S}{sup|E}{n| = ' + stat_SE[i] + '}\n{it|S}{sup|σ}{n| = ' + stat_Ss[i] + '}';
  graphics.push({type: 'text', x: left + 4, y: top + 2, z: 100, silent: true,
    style: {text: leftText, rich, fill: '#111', align: 'left', verticalAlign: 'top'}});
  const rightText = '{it|p}{n| ' + stat_p[i] + '}\n{it|p}{sub|n}{sub2|BOC}{n|' + stat_pB[i] + '}\n{it|p}{sub|n}{sub2|EOC}{n|' + stat_pE[i] + '}';
  graphics.push({type: 'text', x: left + w - 7, y: top + 2, z: 100, silent: true,
    style: {text: rightText, rich, fill: '#111', align: 'right', verticalAlign: 'top'}});
});

const chart = echarts.init(document.getElementById('c'), null, {renderer: 'canvas'});
chart.setOption({
  animation: false,
  grid: grids, xAxis: xAxes, yAxis: yAxes, series,
  graphic: graphics,
  legend: {left: 369, top: 748, itemWidth: 40, itemHeight: 14, itemGap: 36,
    data: legendNames.map(n => ({name: n, icon: 'rect'})),
    textStyle: {fontFamily: FONT, fontSize: 18, color: '#111', padding: [0, 0, 0, 12]}}
});
</script></body></html>
